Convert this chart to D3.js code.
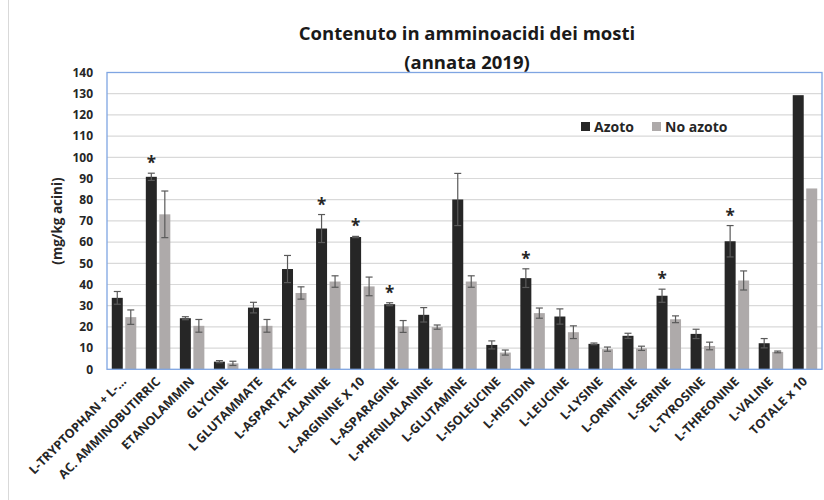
<!DOCTYPE html>
<html><head><meta charset="utf-8">
<script src="https://cdn.jsdelivr.net/npm/d3@7"></script>
<style>body{margin:0;background:#fff}svg{display:block}text{font-family:"Open Sans",sans-serif}</style>
</head><body><svg id="c" width="824" height="500"></svg>
<script>
const categories = ["L-TRYPTOPHAN + L-…","AC. AMMINOBUTIRRIC","ETANOLAMMIN","GLYCINE","L GLUTAMMATE","L-ASPARTATE","L-ALANINE","L-ARGININE X 10","L-ASPARAGINE","L-PHENILALANINE","L-GLUTAMINE","L-ISOLEUCINE","L-HISTIDIN","L-LEUCINE","L-LYSINE","L-ORNITINE","L-SERINE","L-TYROSINE","L-THREONINE","L-VALINE","TOTALE x 10"];
const azoto    = [33.7,90.8,24.1,3.6,29.1,47.3,66.4,62.4,30.7,25.7,80.1,11.5,43.0,24.9,12.0,15.8,34.7,16.7,60.4,12.3,129.3];
const azotoErr = [3.0,1.7,0.7,0.5,2.5,6.4,6.6,0.3,0.7,3.4,12.3,1.9,4.4,3.6,0.4,1.2,3.1,2.2,7.4,2.2,0];
const noAzoto    = [24.6,73.1,20.5,2.8,20.5,36.0,41.4,39.1,20.2,19.9,41.4,7.9,26.5,17.5,9.5,9.9,23.6,11.0,41.9,8.2,85.3];
const noAzotoErr = [3.4,11.0,3.0,1.0,3.0,2.9,2.7,4.4,2.8,1.0,2.7,1.2,2.4,3.0,1.0,1.0,1.6,1.8,4.5,0.4,0];
const significant = [false,true,false,false,false,false,true,true,true,false,false,false,true,false,false,false,true,false,true,false,false];
const seriesNames = ["Azoto","No azoto"];
const yTicks = d3.range(0,141,10);

const svg = d3.select("#c");
const L=107,R=822,T=72.5,B=369.3;
const x = d3.scaleBand().domain(categories).range([L,R]);
const y = d3.scaleLinear().domain([0,140]).range([B,T]);
const colors = ["#262626","#aeaaaa"];
const bw = 11, gap = 2.5;

svg.append("line").attr("x1",8.5).attr("x2",8.5).attr("y1",0).attr("y2",500).attr("stroke","#d9d9d9");

// grid
svg.append("g").selectAll("line").data(yTicks.slice(1,-1)).join("line")
  .attr("x1",L).attr("x2",R).attr("y1",d=>y(d)).attr("y2",d=>y(d))
  .attr("stroke","#d9d9d9").attr("stroke-width",1.2);

// y axis labels
const ya = svg.append("g").attr("transform",`translate(${L},0)`)
  .call(d3.axisLeft(y).tickValues(yTicks).tickSize(0).tickPadding(14));
ya.select(".domain").remove();
ya.selectAll("text").attr("font-size",12).attr("font-weight","bold").attr("fill","#262626")
  .style("font-family","'Open Sans',sans-serif");

// bars
const series = [azoto,noAzoto], errs=[azotoErr,noAzotoErr];
series.forEach((vals,si)=>{
  const off = si===0 ? -gap/2-bw : gap/2;
  const g = svg.append("g");
  g.selectAll("rect").data(vals).join("rect")
    .attr("x",(d,i)=>x(categories[i])+x.bandwidth()/2+off)
    .attr("width",bw).attr("y",d=>y(d)).attr("height",d=>B-y(d))
    .attr("fill",colors[si]);
  const eg = svg.append("g").attr("stroke","#5a5a5a").attr("stroke-width",1.2);
  vals.forEach((v,i)=>{
    const e = errs[si][i]; if(!e) return;
    const cx = x(categories[i])+x.bandwidth()/2+off+bw/2;
    eg.append("line").attr("x1",cx).attr("x2",cx).attr("y1",y(v-e)).attr("y2",y(v+e));
    eg.append("line").attr("x1",cx-3.5).attr("x2",cx+3.5).attr("y1",y(v+e)).attr("y2",y(v+e));
    eg.append("line").attr("x1",cx-3.5).attr("x2",cx+3.5).attr("y1",y(v-e)).attr("y2",y(v-e));
  });
});

// asterisks
svg.append("g").selectAll("text").data(categories.filter((c,i)=>significant[i])).join("text")
  .attr("x",c=>x(c)+x.bandwidth()/2-gap/2-bw/2)
  .attr("y",c=>{const i=categories.indexOf(c);return y(azoto[i]+azotoErr[i])-4;})
  .attr("text-anchor","middle").attr("font-size",17).attr("font-weight","bold").attr("fill","#262626").text("*");

// frame
svg.append("rect").attr("x",L).attr("y",T).attr("width",R-L).attr("height",B-T)
  .attr("fill","none").attr("stroke","#7fa5e2").attr("stroke-width",1.3);

// x labels
svg.append("g").selectAll("text").data(categories).join("text")
  .attr("transform",c=>`translate(${x(c)+x.bandwidth()/2+3},${B+13}) rotate(-45)`)
  .attr("text-anchor","end").attr("font-size",12.5).attr("font-weight","bold").attr("fill","#262626")
  .text(c=>c);

// title
svg.append("text").attr("x",467).attr("y",39.5).attr("text-anchor","middle").attr("font-size",18.5).attr("font-weight","bold").attr("fill","#1a1a1a").text("Contenuto in amminoacidi dei mosti");
svg.append("text").attr("x",467).attr("y",69).attr("text-anchor","middle").attr("font-size",18.5).attr("font-weight","bold").attr("fill","#1a1a1a").text("(annata 2019)");

// y label
svg.append("text").attr("transform","translate(62,221) rotate(-90)").attr("text-anchor","middle")
  .attr("font-size",13.5).attr("font-weight","bold").attr("fill","#262626").text("(mg/kg acini)");

// legend
const lg = svg.append("g");
const lx=[581,652];
seriesNames.forEach((n,i)=>{
  lg.append("rect").attr("x",lx[i]).attr("y",122).attr("width",9).attr("height",9).attr("fill",colors[i]);
  lg.append("text").attr("x",lx[i]+13).attr("y",131.5).attr("font-size",14).attr("font-weight","bold").attr("fill","#262626").text(n);
});
</script></body></html>
